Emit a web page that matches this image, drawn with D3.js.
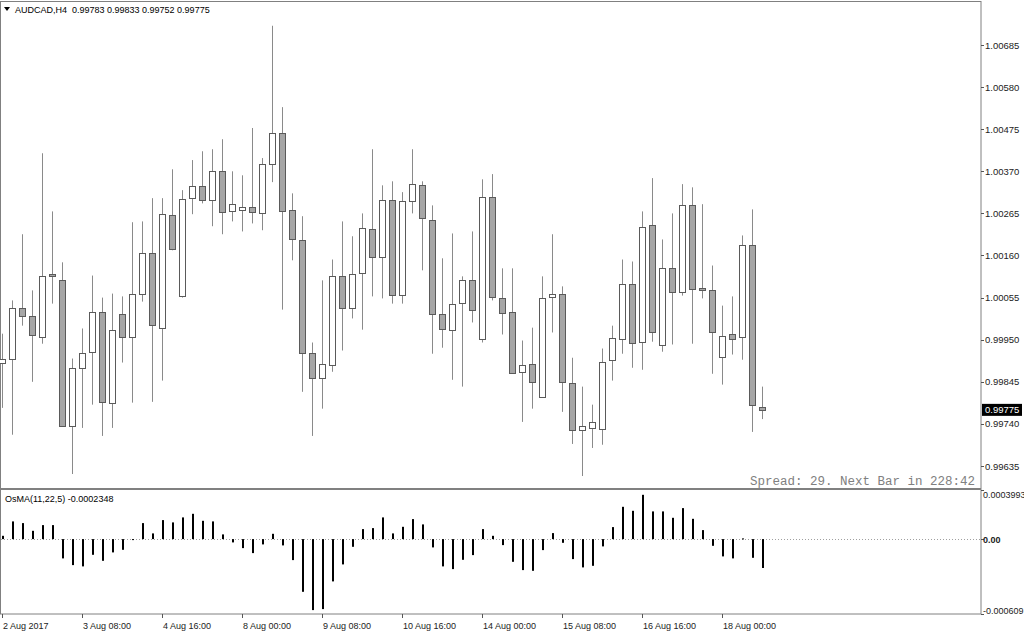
<!DOCTYPE html>
<html><head><meta charset="utf-8">
<script src="https://cdn.jsdelivr.net/npm/d3@7"></script>
<style>body{margin:0;background:#fff}svg{display:block}</style>
</head><body>
<svg id="c" width="1024" height="634"></svg>
<script>
const symbol = "AUDCAD,H4";
const open = [0.99893,0.99903,1.00030,1.00008,0.99958,1.00115,1.00098,0.99735,0.99880,0.99918,
1.00020,0.99793,1.00013,0.99955,1.00063,1.00165,0.99978,1.00260,1.00058,1.00303,
1.00333,1.00298,1.00370,1.00270,1.00273,1.00280,1.00265,1.00388,1.00465,1.00273,
1.00198,0.99918,0.99855,0.99888,1.00110,1.00030,1.00115,1.00225,1.00155,1.00298,
1.00060,1.00295,1.00335,1.00248,1.00015,0.99975,1.00040,1.00098,0.99950,1.00305,
1.00055,1.00020,0.99870,0.99890,0.99808,1.00055,1.00063,0.99843,0.99725,0.99730,
0.99728,0.99898,0.99953,1.00090,0.99943,1.00235,0.99938,1.00130,1.00068,1.00285,
1.00078,1.00075,0.99908,0.99965,0.99955,1.00185,0.99783];
const high = [0.99965,1.00048,1.00213,1.00073,1.00415,1.00270,1.00143,0.99903,0.99978,1.00110,
1.00055,1.00065,1.00058,1.00243,1.00245,1.00303,1.00303,1.00375,1.00323,1.00398,
1.00420,1.00425,1.00450,1.00370,1.00360,1.00478,1.00403,1.00733,1.00530,1.00315,
1.00258,0.99943,1.00098,1.00150,1.00245,1.00208,1.00265,1.00425,1.00335,1.00345,
1.00318,1.00425,1.00345,1.00285,1.00153,1.00215,1.00108,1.00220,1.00350,1.00363,
1.00128,1.00128,0.99948,0.99980,1.00108,1.00213,1.00083,0.99905,0.99833,0.99788,
0.99928,0.99985,1.00150,1.00145,1.00270,1.00353,1.00200,1.00265,1.00338,1.00330,
1.00288,1.00135,1.00035,1.00058,1.00210,1.00275,0.99833];
const low = [0.99780,0.99713,0.99985,0.99845,0.99940,1.00040,0.99733,0.99615,0.99730,0.99788,
0.99710,0.99730,0.99893,0.99793,1.00045,0.99795,0.99848,1.00173,1.00055,1.00263,
1.00290,1.00233,1.00213,1.00245,1.00220,1.00240,1.00223,1.00343,1.00025,1.00148,
0.99820,0.99710,0.99778,0.99870,0.99923,1.00003,0.99975,1.00058,1.00053,1.00040,
1.00040,1.00265,1.00123,0.99915,0.99930,0.99850,0.99833,0.99993,0.99943,1.00048,
0.99963,0.99866,0.99745,0.99778,0.99805,0.99968,0.99770,0.99690,0.99610,0.99680,
0.99688,0.99848,0.99915,0.99880,0.99875,0.99945,0.99920,0.99938,1.00060,0.99940,
1.00053,0.99865,0.99838,0.99913,0.99900,0.99720,0.99752];
const close = [0.99903,1.00030,1.00010,0.99960,1.00110,1.00110,0.99735,0.99880,0.99918,1.00018,
0.99795,0.99975,0.99955,1.00063,1.00165,0.99985,1.00263,1.00175,1.00300,1.00333,
1.00298,1.00370,1.00268,1.00288,1.00280,1.00268,1.00388,1.00465,1.00270,1.00200,
0.99915,0.99855,0.99890,1.00110,1.00030,1.00115,1.00228,1.00155,1.00298,1.00060,
1.00295,1.00338,1.00253,1.00013,0.99978,1.00040,1.00098,1.00023,1.00305,1.00055,
1.00018,0.99868,0.99888,0.99845,1.00055,1.00063,0.99843,0.99725,0.99735,0.99745,
0.99895,0.99953,1.00090,0.99943,1.00230,0.99968,1.00130,1.00070,1.00285,1.00075,
1.00073,0.99970,0.99960,0.99953,1.00185,0.99785,0.99775];
const osma = [0.0000268,0.0001439,0.0001301,0.0000675,0.0001138,0.0001138,-0.0001569,-0.0002114,-0.0002219,-0.0001276,
-0.0001764,-0.0001081,-0.0000870,-0.0000024,0.0001301,0.0000463,0.0001545,0.0001358,0.0001764,0.0002057,
0.0001488,0.0001439,0.0000382,-0.0000268,-0.0000732,-0.0001138,-0.0000431,0.0000431,-0.0000512,-0.0001707,
-0.0004285,-0.0005772,-0.0005691,-0.0003439,-0.0002057,-0.0000626,0.0000813,0.0000894,0.0001764,0.0000463,
0.0001000,0.0001626,0.0001195,-0.0000675,-0.0002219,-0.0002439,-0.0001683,-0.0001301,0.0000813,0.0000268,
-0.0000488,-0.0001846,-0.0002520,-0.0002577,-0.0000894,0.0000488,-0.0000301,-0.0001626,-0.0002301,-0.0002171,
-0.0000593,0.0000976,0.0002626,0.0002301,0.0003602,0.0002252,0.0002252,0.0001732,0.0002520,0.0001650,
0.0000732,-0.0000545,-0.0001406,-0.0001569,0.0000057,-0.0001520,-0.0002348];
const priceTicks = [1.00685,1.00580,1.00475,1.00370,1.00265,1.00160,1.00055,0.99950,0.99845,0.99740,0.99635];
const osmaTicks = [0.0003993, 0, -0.000609];
const osmaTickLabels = ["0.0003993","0.00","-0.000609"];
const timeTickBars = [0,8,16,24,32,40,48,56,64,72];
const timeTickLabels = ["2 Aug 2017","3 Aug 08:00","4 Aug 16:00","8 Aug 00:00","9 Aug 08:00","10 Aug 16:00","14 Aug 00:00","15 Aug 08:00","16 Aug 16:00","18 Aug 00:00"];
const spreadText = "Spread: 29. Next Bar in 228:42";
const osmaTitle = "OsMA(11,22,5) -0.0002348";

const svg = d3.select("#c");
const font = "'Liberation Sans', Arial, sans-serif";
const axisX = 981, subTop = 490, subBottom = 614;

const x = d3.scaleLinear().domain([0, 76]).range([2, 762]);
const y = d3.scaleLinear().domain([0.99635, 1.00685]).range([466, 45]);
const yo = d3.scaleLinear().domain([-0.000609, 0.0003993]).range([subBottom, subTop]);

// frames
svg.append("rect").attr("x",0.5).attr("y",1.5).attr("width",axisX-0.5).attr("height",subBottom-1.5)
  .attr("fill","none").attr("stroke","#808080");
svg.append("line").attr("x1",0).attr("x2",axisX).attr("y1",489).attr("y2",489)
  .attr("stroke","#808080").attr("stroke-width",2);

const idx = d3.range(open.length);
const gMain = svg.append("g");
gMain.selectAll("line.w").data(idx).join("line")
  .attr("x1",i=>Math.round(x(i))+0.5).attr("x2",i=>Math.round(x(i))+0.5)
  .attr("y1",i=>y(high[i])).attr("y2",i=>y(low[i]))
  .attr("stroke","#8a8a8a").attr("stroke-width",1);
gMain.selectAll("rect.b").data(idx).join("rect")
  .attr("x",i=>Math.round(x(i))-3+0.5)
  .attr("width",6)
  .attr("y",i=>Math.round(y(Math.max(open[i],close[i])))+0.5)
  .attr("height",i=>Math.max(1,Math.round(Math.abs(y(open[i])-y(close[i])))))
  .attr("fill",i=>close[i]>=open[i]?"#ffffff":"#a6a6a6")
  .attr("stroke","#5a5a5a").attr("stroke-width",1);

// price axis
const pa = svg.append("g");
pa.selectAll("line").data(priceTicks).join("line")
  .attr("x1",axisX).attr("x2",axisX+3).attr("y1",d=>Math.round(y(d))+0.5).attr("y2",d=>Math.round(y(d))+0.5)
  .attr("stroke","#555");
pa.selectAll("text").data(priceTicks).join("text")
  .attr("x",axisX+4).attr("y",d=>y(d)+3.5).text(d=>d.toFixed(5))
  .attr("font-family",font).attr("font-size","9.5px").attr("fill","#222");

const last = close[close.length-1];
svg.append("rect").attr("x",axisX+1).attr("y",y(last)-6).attr("width",40).attr("height",12).attr("fill","#000");
svg.append("text").attr("x",axisX+4).attr("y",y(last)+3.5).text(last.toFixed(5))
  .attr("font-family",font).attr("font-size","9.5px").attr("fill","#fff");

// header
svg.append("path").attr("d","M4,7 L10,7 L7,11 Z").attr("fill","#000");
svg.append("text").attr("x",15).attr("y",13)
  .text(symbol+"  "+[open[76],high[76],low[76],close[76]].map(v=>v.toFixed(5)).join(" "))
  .attr("font-family",font).attr("font-size","9px").attr("fill","#000").style("white-space","pre");

svg.append("text").attr("x",975).attr("y",485).attr("text-anchor","end").text(spreadText)
  .attr("font-family","'Liberation Mono','Courier New',monospace").attr("font-size","12.5px").attr("fill","#808080");

// OsMA
svg.append("line").attr("x1",1).attr("x2",axisX).attr("y1",Math.round(yo(0))+0.5).attr("y2",Math.round(yo(0))+0.5)
  .attr("stroke","#a0a0a0").attr("stroke-dasharray","1,2");
svg.append("g").selectAll("rect").data(idx).join("rect")
  .attr("x",i=>Math.round(x(i)))
  .attr("width",2)
  .attr("y",i=>Math.min(yo(0),yo(osma[i])))
  .attr("height",i=>Math.max(1,Math.abs(yo(osma[i])-yo(0))))
  .attr("fill","#000");
svg.append("text").attr("x",5).attr("y",502).text(osmaTitle)
  .attr("font-family",font).attr("font-size","9px").attr("fill","#000");
const oa = svg.append("g");
oa.selectAll("line").data(osmaTicks).join("line")
  .attr("x1",axisX).attr("x2",axisX+3).attr("y1",d=>Math.round(yo(d))+0.5).attr("y2",d=>Math.round(yo(d))+0.5)
  .attr("stroke","#555");
oa.selectAll("text").data(osmaTicks).join("text")
  .attr("x",axisX+2).attr("y",(d,i)=> i===0 ? yo(d)+8 : (i===2 ? yo(d)-0.5 : yo(d)+3.5))
  .text((d,i)=>osmaTickLabels[i])
  .attr("font-weight",(d,i)=>i===1?"bold":"normal")
  .attr("font-family",font).attr("font-size","9px").attr("fill","#222");

// time axis
const ta = svg.append("g");
ta.selectAll("line").data(timeTickBars).join("line")
  .attr("x1",d=>Math.round(x(d))+0.5).attr("x2",d=>Math.round(x(d))+0.5)
  .attr("y1",subBottom).attr("y2",subBottom+4).attr("stroke","#555");
ta.selectAll("text").data(timeTickBars).join("text")
  .attr("x",d=>x(d)+1).attr("y",629).text((d,i)=>timeTickLabels[i])
  .attr("font-family",font).attr("font-size","9px").attr("fill","#222");
</script>
</body></html>
